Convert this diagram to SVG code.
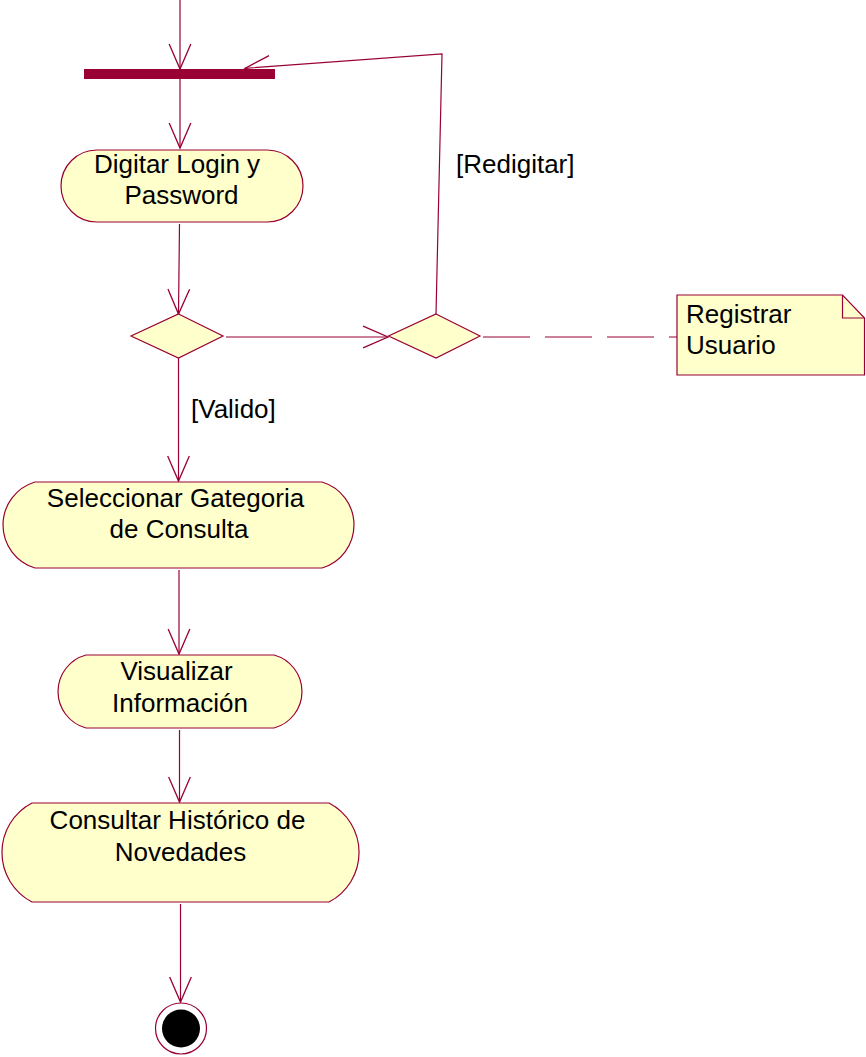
<svg xmlns="http://www.w3.org/2000/svg" width="866" height="1057" viewBox="0 0 866 1057">
  <style>
    .edge { fill: none; stroke: #990033; stroke-width: 1.2; }
    .flow { marker-end: url(#open-arrow); }
    .note-link { stroke-dasharray: 47 15; }
    .activity { fill: #FFFFCC; stroke: #990033; stroke-width: 1.2; }
    .bar { fill: #990033; }
    .lbl { font-family: "Liberation Sans", Arial, sans-serif; font-size: 26px; fill: #000; }
    .mid { text-anchor: middle; }
  </style>
  <defs>
    <marker id="open-arrow" markerUnits="userSpaceOnUse" markerWidth="30" markerHeight="26" refX="0" refY="0" viewBox="-25 -12 27 24" orient="auto" overflow="visible">
      <path d="M -23 -10 L 0 0 L -23 10" fill="none" stroke="#990033" stroke-width="1.2"/>
    </marker>
  </defs>
  <rect width="866" height="1057" fill="#fff"/>

  <!-- transitions -->
  <g id="connectors">
    <path class="edge flow" d="M180 0 V69"/>
    <path class="edge flow" d="M180 79 V148"/>
    <path class="edge flow" d="M179.5 224 L178.5 314"/>
    <path class="edge flow" d="M226 337 H388"/>
    <path class="edge flow" d="M436 314 L442 54 L245 68.3"/>
    <path class="edge flow" d="M178.5 357 V481"/>
    <path class="edge flow" d="M179 570 V654"/>
    <path class="edge flow" d="M179.5 730 V802"/>
    <path class="edge flow" d="M180.5 904 V1002"/>
    <path class="edge note-link" d="M483 337 H677"/>
    <text class="lbl" x="456" y="173">[Redigitar]</text>
    <text class="lbl" x="191" y="418">[Valido]</text>
  </g>

  <g id="sync-bar">
    <rect class="bar" x="84" y="69" width="191" height="10"/>
  </g>

  <!-- activity states: flat top/bottom, circular-arc ends -->
  <g id="digitar-login">
    <path class="activity" d="M97 150 H267 A36 36 0 0 1 267 222 H97 A36 36 0 0 1 97 150 Z"/>
    <text class="lbl mid" x="177" y="173">Digitar Login y</text>
    <text class="lbl mid" x="181.5" y="204">Password</text>
  </g>

  <g id="decision-valido">
    <polygon class="activity" points="178.5,314 223,336 178.5,358 131,336"/>
  </g>

  <g id="decision-redigitar">
    <polygon class="activity" points="436,314 480,336 436,358 388.5,336"/>
  </g>

  <g id="note-registrar">
    <path class="activity" d="M677 295 H842.5 L864.5 318 V375 H677 Z"/>
    <path class="edge" d="M842.5 295 V318 H864.5"/>
    <text class="lbl" x="686" y="323">Registrar</text>
    <text class="lbl" x="686" y="354">Usuario</text>
  </g>

  <g id="seleccionar-categoria">
    <path class="activity" d="M35 482 H322 A44.9 44.9 0 0 1 322 568 H35 A44.9 44.9 0 0 1 35 482 Z"/>
    <text class="lbl mid" x="175.5" y="506.5">Seleccionar Gategoria</text>
    <text class="lbl mid" x="179" y="538">de Consulta</text>
  </g>

  <g id="visualizar-informacion">
    <path class="activity" d="M86 655 H274 A37.8 37.8 0 0 1 274 728 H86 A37.8 37.8 0 0 1 86 655 Z"/>
    <text class="lbl mid" x="176.5" y="680">Visualizar</text>
    <text class="lbl mid" x="180" y="711.5">Información</text>
  </g>

  <g id="consultar-historico">
    <path class="activity" d="M32 803 H329 A55.8 55.8 0 0 1 329 902 H32 A55.8 55.8 0 0 1 32 803 Z"/>
    <text class="lbl mid" x="177.5" y="828.5">Consultar Histórico de</text>
    <text class="lbl mid" x="180.5" y="860.5">Novedades</text>
  </g>

  <g id="final-state">
    <circle cx="181" cy="1028.5" r="25.5" fill="#fff" stroke="#990033" stroke-width="1.2"/>
    <circle cx="181" cy="1028.5" r="19" fill="#000"/>
  </g>
</svg>
